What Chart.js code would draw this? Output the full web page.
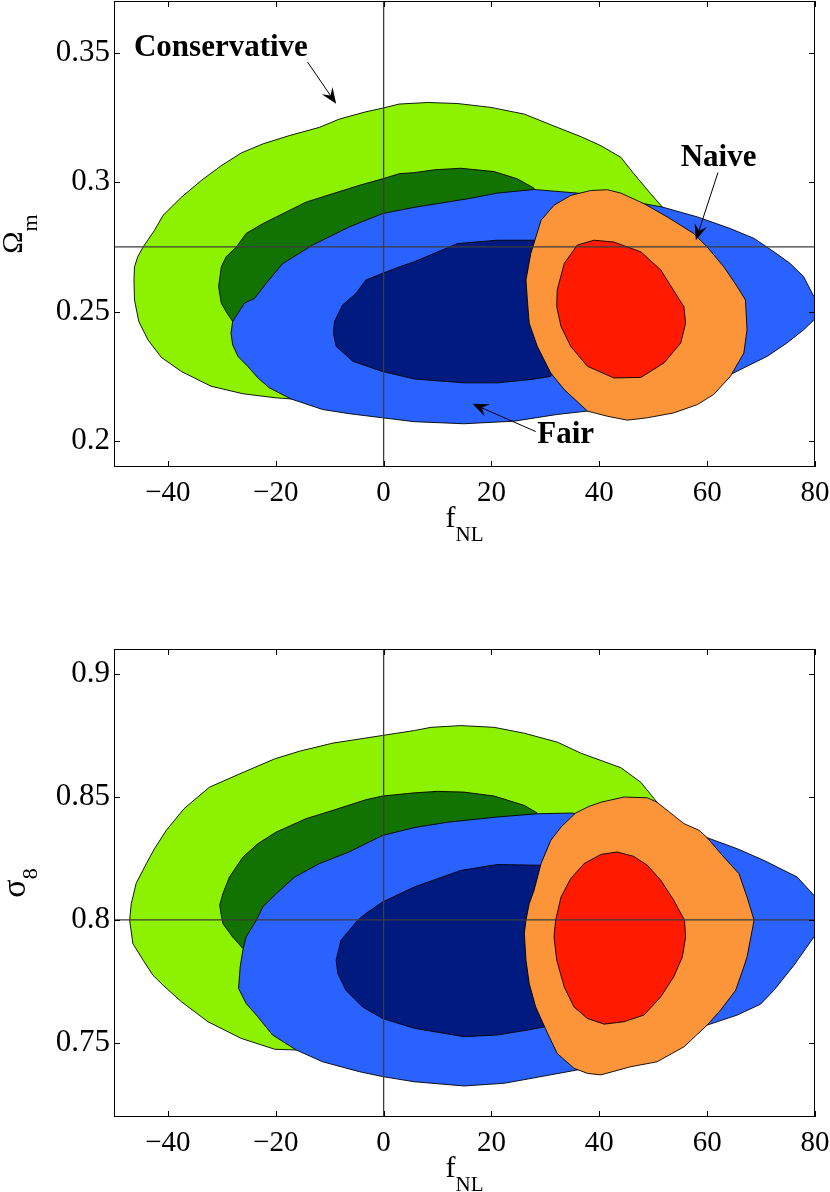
<!DOCTYPE html>
<html>
<head>
<meta charset="utf-8">
<script src="https://cdn.jsdelivr.net/npm/chart.js@4.4.1/dist/chart.umd.min.js"></script>
<style>
  html, body { margin: 0; padding: 0; background: #fff; }
  #wrap { position: relative; width: 830px; height: 1192px; overflow: hidden; }
  canvas { position: absolute; left: 0; }
  #topPanel { top: 0; }
  #bottomPanel { top: 600px; }
</style>
</head>
<body>
<div id="wrap">
  <canvas id="topPanel" width="830" height="560"></canvas>
  <canvas id="bottomPanel" width="830" height="592"></canvas>
</div>
<script>
// axes
const xRange = [-50, 80];
const xTicks = [-40, -20, 0, 20, 40, 60, 80];
const omegaRange = [0.19, 0.37];
const omegaTicks = [0.2, 0.25, 0.3, 0.35];
const sigmaRange = [0.72, 0.91];
const sigmaTicks = [0.75, 0.8, 0.85, 0.9];
const fiducialFNL = 0;
const fiducialOmega = 0.275;
const fiducialSigma = 0.8;

// contours, f_NL vs Omega_m  ([fNL, Omega_m])
const omegaConsOuter = [[-46.2,0.2673],[-45.6,0.2712],[-44.6,0.2750],[-42.5,0.2814],[-40.9,0.2872],[-37.5,0.2942],[-33.8,0.3007],[-30.1,0.3064],[-26.4,0.3113],[-22.4,0.3148],[-17.5,0.3180],[-11.9,0.3212],[-8.2,0.3244],[-3.3,0.3272],[-0.2,0.3286],[2.9,0.3302],[8.2,0.3308],[13.7,0.3304],[19.9,0.3289],[26.1,0.3263],[32.2,0.3212],[36.6,0.3176],[40.3,0.3141],[44.0,0.3096],[46.4,0.3033],[49.5,0.2956],[51.7,0.2904],[54.8,0.2776],[51.1,0.2622],[43.7,0.2430],[30.7,0.2276],[12.2,0.2199],[-6.4,0.2168],[-17.2,0.2163],[-19.9,0.2167],[-26.1,0.2183],[-32.0,0.2212],[-37.5,0.2269],[-41.2,0.2323],[-43.7,0.2391],[-45.4,0.2462],[-46.2,0.2545],[-46.3,0.2622]];
const omegaConsInner = [[-30.6,0.2596],[-30.1,0.2673],[-29.2,0.2712],[-27.3,0.2750],[-25.5,0.2802],[-22.4,0.2840],[-19.9,0.2866],[-14.4,0.2923],[-9.4,0.2956],[-4.5,0.2988],[-0.2,0.3013],[2.9,0.3033],[5.7,0.3037],[9.4,0.3048],[14.3,0.3054],[20.5,0.3041],[24.8,0.3013],[27.9,0.2977],[29.8,0.2814],[21.4,0.2622],[2.9,0.2507],[-15.6,0.2461],[-28.0,0.2462],[-29.2,0.2500],[-30.1,0.2533]];
const omegaFairOuter = [[-28.0,0.2462],[-28.3,0.2417],[-28.0,0.2372],[-27.0,0.2327],[-25.2,0.2289],[-23.3,0.2244],[-21.2,0.2206],[-17.2,0.2163],[-11.3,0.2122],[-6.4,0.2106],[-0.2,0.2090],[5.7,0.2075],[14.9,0.2067],[24.2,0.2077],[32.2,0.2103],[37.8,0.2116],[49.2,0.2141],[58.5,0.2180],[64.3,0.2257],[67.4,0.2289],[71.1,0.2327],[74.8,0.2379],[77.9,0.2430],[79.8,0.2468],[81,0.2470],[81,0.2560],[79.8,0.2558],[77.9,0.2635],[75.4,0.2686],[72.4,0.2731],[68.7,0.2783],[64.3,0.2821],[58.2,0.2866],[51.7,0.2904],[48.3,0.2917],[41.8,0.2945],[35.9,0.2958],[27.9,0.2972],[21.1,0.2958],[15.6,0.2936],[5.7,0.2903],[-0.2,0.2879],[-6.4,0.2827],[-13.2,0.2757],[-18.7,0.2686],[-21.8,0.2609],[-23.9,0.2552],[-25.8,0.2533]];
const omegaFairInner = [[5.7,0.2693],[2.9,0.2673],[-0.2,0.2648],[-3.3,0.2622],[-5.1,0.2571],[-7.6,0.2526],[-9.1,0.2462],[-9.3,0.2417],[-8.8,0.2366],[-5.7,0.2308],[-0.2,0.2269],[5.7,0.2240],[14.9,0.2225],[21.1,0.2225],[27.3,0.2238],[31.0,0.2250],[33.5,0.2430],[33.5,0.2660],[27.9,0.2776],[21.1,0.2776],[13.7,0.2763]];
const omegaNaiveOuter = [[38.4,0.2968],[41.5,0.2971],[44.0,0.2958],[48.3,0.2917],[52.6,0.2866],[57.5,0.2802],[60.0,0.2750],[63.1,0.2673],[65.6,0.2596],[67.1,0.2545],[67.4,0.2430],[66.8,0.2340],[64.3,0.2250],[61.2,0.2180],[58.2,0.2141],[53.8,0.2109],[48.9,0.2090],[45.2,0.2081],[41.5,0.2096],[37.8,0.2116],[33.5,0.2199],[31.0,0.2263],[28.5,0.2366],[27.0,0.2456],[26.7,0.2533],[26.4,0.2622],[27.3,0.2725],[29.2,0.2853],[31.6,0.2911],[34.7,0.2949]];
const omegaNaiveInner = [[39.0,0.2776],[42.7,0.2769],[47.7,0.2731],[51.4,0.2661],[54.5,0.2558],[55.7,0.2519],[56.0,0.2455],[55.1,0.2379],[52.0,0.2302],[47.7,0.2246],[42.7,0.2244],[37.8,0.2289],[34.7,0.2366],[32.9,0.2443],[32.1,0.2519],[32.2,0.2584],[33.5,0.2686],[35.9,0.2757]];

// contours, f_NL vs sigma_8  ([fNL, sigma_8])
const sigmaConsOuter = [[-47.1,0.7999],[-46.8,0.8066],[-45.9,0.8148],[-44.0,0.8229],[-42.5,0.8289],[-40.3,0.8364],[-37.0,0.8452],[-32.3,0.8539],[-26.7,0.8593],[-20.2,0.8654],[-15.6,0.8685],[-9.4,0.8718],[-0.2,0.8749],[5.7,0.8769],[8.8,0.8782],[14.3,0.8789],[20.5,0.8782],[26.1,0.8758],[32.2,0.8722],[36.6,0.8677],[44.0,0.8618],[47.7,0.8559],[50.7,0.8478],[52.9,0.8323],[51.1,0.8080],[43.7,0.7756],[25.1,0.7553],[2.9,0.7492],[-16.2,0.7472],[-20.2,0.7475],[-26.4,0.7519],[-32.6,0.7587],[-37.5,0.7668],[-40.9,0.7735],[-42.8,0.7776],[-44.6,0.7837],[-46.5,0.7904]];
const sigmaConsInner = [[-30.4,0.8060],[-29.8,0.8107],[-28.6,0.8174],[-26.1,0.8255],[-23.3,0.8310],[-19.9,0.8357],[-14.4,0.8411],[-9.4,0.8445],[-3.3,0.8488],[-0.2,0.8503],[5.7,0.8516],[10.0,0.8522],[14.9,0.8519],[20.5,0.8503],[26.1,0.8465],[28.5,0.8434],[21.4,0.8202],[2.9,0.8080],[-15.6,0.7958],[-26.1,0.7884],[-28.0,0.7931],[-29.8,0.7985],[-30.1,0.8019]];
const sigmaFairOuter = [[-23.6,0.7999],[-25.5,0.7931],[-26.1,0.7877],[-26.6,0.7810],[-26.9,0.7722],[-25.5,0.7661],[-23.6,0.7614],[-20.6,0.7533],[-16.2,0.7472],[-11.3,0.7424],[-4.5,0.7384],[-0.2,0.7364],[5.7,0.7343],[14.9,0.7326],[22.4,0.7337],[29.2,0.7364],[35.9,0.7391],[43.7,0.7431],[54.8,0.7512],[60.0,0.7573],[65.6,0.7614],[69.9,0.7658],[72.4,0.7715],[76.1,0.7816],[79.8,0.7931],[81,0.7931],[81,0.8090],[79.8,0.8100],[76.7,0.8174],[70.5,0.8242],[65.6,0.8289],[60.0,0.8334],[47.4,0.8404],[34.7,0.8434],[28.5,0.8431],[21.1,0.8418],[11.9,0.8397],[5.7,0.8375],[-0.2,0.8343],[-6.4,0.8276],[-11.9,0.8229],[-16.5,0.8174],[-19.9,0.8107],[-22.4,0.8053]];
const sigmaFairInner = [[5.7,0.8134],[-0.2,0.8073],[-3.3,0.8026],[-4.8,0.7999],[-7.9,0.7918],[-8.8,0.7837],[-8.5,0.7783],[-7.0,0.7715],[-3.9,0.7647],[-0.2,0.7600],[5.7,0.7560],[14.9,0.7526],[21.1,0.7533],[26.7,0.7553],[29.8,0.7566],[32.5,0.7756],[32.5,0.8080],[29.2,0.8222],[21.1,0.8225],[14.3,0.8201]];
const sigmaNaiveOuter = [[40.3,0.8478],[44.6,0.8499],[48.9,0.8496],[50.7,0.8478],[55.7,0.8391],[58.5,0.8364],[60.0,0.8334],[63.1,0.8255],[65.9,0.8188],[67.4,0.8093],[68.7,0.7999],[67.4,0.7850],[66.8,0.7810],[65.3,0.7715],[62.5,0.7634],[60.0,0.7573],[55.7,0.7485],[50.7,0.7424],[45.8,0.7404],[40.3,0.7371],[37.8,0.7377],[35.3,0.7398],[32.2,0.7458],[30.4,0.7540],[28.2,0.7647],[27.0,0.7742],[26.4,0.7837],[26.1,0.7945],[26.4,0.7999],[27.0,0.8066],[27.9,0.8120],[29.2,0.8229],[31.0,0.8323],[32.9,0.8377],[35.6,0.8434],[38.1,0.8461]];
const sigmaNaiveInner = [[43.3,0.8276],[46.4,0.8258],[48.9,0.8222],[51.4,0.8161],[53.8,0.8080],[55.8,0.7999],[56.0,0.7931],[55.4,0.7850],[53.8,0.7769],[51.4,0.7688],[48.3,0.7614],[44.6,0.7587],[40.9,0.7577],[37.8,0.7600],[35.3,0.7647],[33.5,0.7728],[32.1,0.7837],[31.6,0.7931],[31.9,0.7999],[32.9,0.8093],[34.7,0.8168],[37.2,0.8229],[40.3,0.8266]];

const COLORS = {
    consOuter: '#8cf200',
    consInner: '#137300',
    fairOuter: '#2962ff',
    fairInner: '#001a80',
    naiveOuter: '#fc953a',
    naiveInner: '#ff1a00'
};
const SERIF = '"Liberation Serif", "Times New Roman", "DejaVu Serif", serif';

// closed filled contour; lower order = drawn on top
function contour(pts, color, order) {
    const data = pts.concat([pts[0]]).map(p => ({ x: p[0], y: p[1] }));
    return {
        data: data,
        showLine: true,
        fill: 'shape',
        backgroundColor: color,
        borderColor: '#000',
        borderWidth: 0.9,
        pointRadius: 0,
        tension: 0,
        order: order
    };
}

function refLine(data) {
    return {
        data: data,
        showLine: true,
        fill: false,
        borderColor: '#3c3c3c',
        borderWidth: 1.3,
        pointRadius: 0,
        order: 0
    };
}

function fmtTick(v) {
    return String(v).replace('-', '\u2212');
}

// keep the plot box where it is, no extra room for edge labels
function noPadding(s) {
    s.paddingTop = 0;
    s.paddingBottom = 0;
    s.paddingLeft = 0;
    s.paddingRight = 0;
}

// main symbol + lowered subscript, centred on cx
function drawSubText(ctx, t, cx, base) {
    ctx.font = t.size + 'px ' + SERIF;
    const w1 = ctx.measureText(t.main).width;
    ctx.font = t.subSize + 'px ' + SERIF;
    const w2 = ctx.measureText(t.sub).width;
    const x0 = cx - (w1 + w2) / 2;
    ctx.textAlign = 'left';
    ctx.textBaseline = 'alphabetic';
    ctx.font = t.size + 'px ' + SERIF;
    ctx.fillText(t.main, x0, base);
    ctx.font = t.subSize + 'px ' + SERIF;
    ctx.fillText(t.sub, x0 + w1, base + t.drop);
}

function drawArrow(ctx, x1, y1, x2, y2) {
    const ang = Math.atan2(y2 - y1, x2 - x1);
    const len = 16, half = 6.5, notch = 10;
    ctx.beginPath();
    ctx.moveTo(x1, y1);
    ctx.lineTo(x2 - Math.cos(ang) * notch, y2 - Math.sin(ang) * notch);
    ctx.stroke();
    ctx.save();
    ctx.translate(x2, y2);
    ctx.rotate(ang);
    ctx.beginPath();
    ctx.moveTo(0, 0);
    ctx.lineTo(-len, -half);
    ctx.lineTo(-notch, 0);
    ctx.lineTo(-len, half);
    ctx.closePath();
    ctx.fill();
    ctx.restore();
}

// frame, inward ticks, axis titles and labels
const framePlugin = {
    id: 'frame',
    afterDraw(chart, args, o) {
        const ctx = chart.ctx;
        const a = chart.chartArea;
        const sx = chart.scales.x, sy = chart.scales.y;
        ctx.save();
        ctx.strokeStyle = '#000';
        ctx.fillStyle = '#000';
        ctx.lineWidth = 1;

        ctx.beginPath();
        sx.ticks.forEach(t => {
            const p = Math.round(sx.getPixelForValue(t.value)) + 0.5;
            ctx.moveTo(p, a.bottom); ctx.lineTo(p, a.bottom - o.tickLen);
            ctx.moveTo(p, a.top); ctx.lineTo(p, a.top + o.tickLen);
        });
        sy.ticks.forEach(t => {
            const p = Math.round(sy.getPixelForValue(t.value)) + 0.5;
            ctx.moveTo(a.left, p); ctx.lineTo(a.left + o.tickLen, p);
            ctx.moveTo(a.right, p); ctx.lineTo(a.right - o.tickLen, p);
        });
        ctx.stroke();
        ctx.strokeRect(Math.round(a.left) + 0.5, Math.round(a.top) + 0.5,
            Math.round(a.right - a.left) - 1, Math.round(a.bottom - a.top) - 1);

        drawSubText(ctx, o.xTitle, (a.left + a.right) / 2, a.bottom + 60);

        ctx.save();
        ctx.translate(o.yTitle.base, (a.top + a.bottom) / 2);
        ctx.rotate(-Math.PI / 2);
        drawSubText(ctx, o.yTitle, 0, 0);
        ctx.restore();

        (o.notes || []).forEach(n => {
            ctx.font = 'bold 31px ' + SERIF;
            ctx.textAlign = 'left';
            ctx.textBaseline = 'alphabetic';
            ctx.fillText(n.label, sx.getPixelForValue(n.at[0]), sy.getPixelForValue(n.at[1]));
            ctx.lineWidth = 1;
            drawArrow(ctx,
                sx.getPixelForValue(n.from[0]), sy.getPixelForValue(n.from[1]),
                sx.getPixelForValue(n.to[0]), sy.getPixelForValue(n.to[1]));
        });
        ctx.restore();
    }
};

function makePanel(canvasId, cfg) {
    const ctx = document.getElementById(canvasId).getContext('2d');
    const datasets = [
        refLine([{ x: fiducialFNL, y: cfg.yRange[0] }, { x: fiducialFNL, y: cfg.yRange[1] }]),
        refLine([{ x: xRange[0], y: cfg.fiducial }, { x: xRange[1], y: cfg.fiducial }]),
        contour(cfg.naiveInner, COLORS.naiveInner, 1),
        contour(cfg.naiveOuter, COLORS.naiveOuter, 2),
        contour(cfg.fairInner, COLORS.fairInner, 3),
        contour(cfg.fairOuter, COLORS.fairOuter, 4),
        contour(cfg.consInner, COLORS.consInner, 5),
        contour(cfg.consOuter, COLORS.consOuter, 6)
    ];
    return new Chart(ctx, {
        type: 'scatter',
        data: { datasets: datasets },
        plugins: [framePlugin],
        options: {
            responsive: false,
            animation: false,
            devicePixelRatio: 1,
            events: [],
            layout: { padding: { left: 0, right: 15, top: cfg.padTop, bottom: 0 } },
            plugins: {
                legend: { display: false },
                tooltip: { enabled: false },
                frame: {
                    tickLen: 6,
                    xTitle: { main: 'f', sub: 'NL', size: 30, subSize: 21, drop: 14 },
                    yTitle: cfg.yTitle,
                    notes: cfg.notes
                }
            },
            scales: {
                x: {
                    type: 'linear',
                    min: xRange[0],
                    max: xRange[1],
                    afterBuildTicks: s => { s.ticks = xTicks.map(v => ({ value: v })); },
                    afterFit: s => { s.height = cfg.xAxisHeight; noPadding(s); },
                    grid: { display: false, drawTicks: false },
                    border: { display: false },
                    ticks: {
                        color: '#000',
                        font: { family: SERIF, size: 29 },
                        padding: 9,
                        autoSkip: false,
                        maxRotation: 0,
                        callback: fmtTick
                    }
                },
                y: {
                    type: 'linear',
                    min: cfg.yRange[0],
                    max: cfg.yRange[1],
                    afterBuildTicks: s => { s.ticks = cfg.yTicks.map(v => ({ value: v })); },
                    afterFit: s => { s.width = 114; noPadding(s); },
                    grid: { display: false, drawTicks: false },
                    border: { display: false },
                    ticks: {
                        color: '#000',
                        font: { family: SERIF, size: 31 },
                        padding: 4,
                        autoSkip: false,
                        callback: fmtTick
                    }
                }
            }
        }
    });
}

makePanel('topPanel', {
    yRange: omegaRange,
    yTicks: omegaTicks,
    fiducial: fiducialOmega,
    padTop: 1,
    xAxisHeight: 93,
    consOuter: omegaConsOuter, consInner: omegaConsInner,
    fairOuter: omegaFairOuter, fairInner: omegaFairInner,
    naiveOuter: omegaNaiveOuter, naiveInner: omegaNaiveInner,
    yTitle: { main: '\u03A9', sub: 'm', size: 30, subSize: 22, drop: 15, base: 22 },
    notes: [
        { label: 'Conservative', at: [-46.3, 0.3487], from: [-14.1, 0.3464], to: [-8.8, 0.3303] },
        { label: 'Naive', at: [55.1, 0.3064], from: [62.0, 0.3037], to: [57.9, 0.2776] },
        { label: 'Fair', at: [28.5, 0.1994], from: [28.2, 0.2037], to: [16.5, 0.2144] }
    ]
});

makePanel('bottomPanel', {
    yRange: sigmaRange,
    yTicks: sigmaTicks,
    fiducial: fiducialSigma,
    padTop: 49,
    xAxisHeight: 75,
    consOuter: sigmaConsOuter, consInner: sigmaConsInner,
    fairOuter: sigmaFairOuter, fairInner: sigmaFairInner,
    naiveOuter: sigmaNaiveOuter, naiveInner: sigmaNaiveInner,
    yTitle: { main: '\u03C3', sub: '8', size: 34, subSize: 22, drop: 12, base: 25 },
    notes: []
});
</script>
</body>
</html>
